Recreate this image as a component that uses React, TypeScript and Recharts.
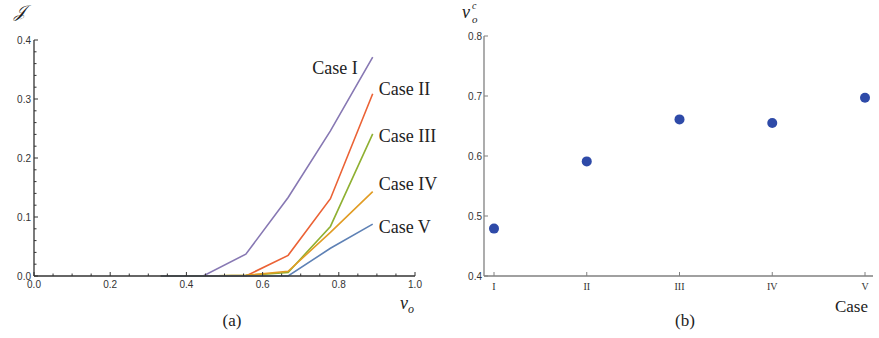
import React from "react";
import { LineChart, Line, XAxis, YAxis, LabelList } from "recharts";

// panel (a): J against v_o, five cases
const voValues = [0.333, 0.444, 0.556, 0.667, 0.778, 0.889];
const caseI = [0, 0, 0.037, 0.133, 0.246, 0.371];
const caseII = [0, 0, 0, 0.035, 0.131, 0.309];
const caseIII = [0, 0, 0.001, 0.006, 0.084, 0.241];
const caseIV = [0, 0, 0.001, 0.008, 0.074, 0.143];
const caseV = [0, 0, 0, 0, 0.047, 0.088];

const xTicksA = [
  0, 0.05, 0.1, 0.15, 0.2, 0.25, 0.3, 0.35, 0.4, 0.45, 0.5, 0.55, 0.6, 0.65,
  0.7, 0.75, 0.8, 0.85, 0.9, 0.95, 1.0,
];
const yTicksA = [
  0, 0.02, 0.04, 0.06, 0.08, 0.1, 0.12, 0.14, 0.16, 0.18, 0.2, 0.22, 0.24,
  0.26, 0.28, 0.3, 0.32, 0.34, 0.36, 0.38, 0.4,
];

// panel (b): critical v_o per case
const caseNames = ["I", "II", "III", "IV", "V"];
const vcValues = [0.479, 0.591, 0.661, 0.655, 0.697];
const yTicksB = [0.4, 0.5, 0.6, 0.7, 0.8];

const dataA = voValues.map((vo, i) => ({
  vo,
  I: caseI[i],
  II: caseII[i],
  III: caseIII[i],
  IV: caseIV[i],
  V: caseV[i],
}));
const dataB = caseNames.map((name, i) => ({ name, vc: vcValues[i] }));

const series = [
  { key: "I", label: "Case I", color: "#8778B3", dx: -15, dy: 17, anchor: "end" },
  { key: "II", label: "Case II", color: "#EB6235", dx: 6, dy: 1, anchor: "start" },
  { key: "III", label: "Case III", color: "#8FB032", dx: 6, dy: 8, anchor: "start" },
  { key: "IV", label: "Case IV", color: "#E19C24", dx: 6, dy: -2, anchor: "start" },
  { key: "V", label: "Case V", color: "#5E81B5", dx: 6, dy: 9, anchor: "start" },
];

const SANS = "'Liberation Sans', Arial, sans-serif";
const SERIF = "'Liberation Serif', 'Times New Roman', serif";
const AXIS_A = "#333";
const AXIS_B = "#808080";
const TICK_TEXT = "#333";

const isMultiple = (v: number, step: number) =>
  Math.abs(Math.round(v / step) * step - v) < 1e-6;

const XTickA = (props: any) => {
  const { x, y, payload } = props;
  const major = isMultiple(payload.value, 0.2);
  return (
    <g>
      <line x1={x} x2={x} y1={y} y2={y - (major ? 4 : 2.5)} stroke={AXIS_A} strokeWidth={1} />
      {major && (
        <text x={x} y={y + 12} textAnchor="middle" fontSize={10} fontFamily={SANS} fill={TICK_TEXT}>
          {payload.value.toFixed(1)}
        </text>
      )}
    </g>
  );
};

const YTickA = (props: any) => {
  const { x, y, payload } = props;
  const major = isMultiple(payload.value, 0.1);
  return (
    <g>
      <line x1={x} x2={x + (major ? 4 : 2.5)} y1={y} y2={y} stroke={AXIS_A} strokeWidth={1} />
      {major && (
        <text x={x - 3} y={y + 3.5} textAnchor="end" fontSize={10} fontFamily={SANS} fill={TICK_TEXT}>
          {payload.value.toFixed(1)}
        </text>
      )}
    </g>
  );
};

const XTickB = (props: any) => {
  const { x, y, payload } = props;
  return (
    <g>
      <line x1={x} x2={x} y1={y} y2={y - 4} stroke={AXIS_B} strokeWidth={1} />
      <text x={x} y={y + 14} textAnchor="middle" fontSize={10} fontFamily={SERIF} fill={TICK_TEXT}>
        {payload.value}
      </text>
    </g>
  );
};

const YTickB = (props: any) => {
  const { x, y, payload } = props;
  return (
    <g>
      <line x1={x} x2={x + 4} y1={y} y2={y} stroke={AXIS_B} strokeWidth={1} />
      <text x={x - 2} y={y + 3.5} textAnchor="end" fontSize={10} fontFamily={SANS} fill={TICK_TEXT}>
        {payload.value.toFixed(1)}
      </text>
    </g>
  );
};

const endLabel = (s: (typeof series)[number]) => (props: any) => {
  const { x, y, index } = props;
  if (index !== voValues.length - 1) return null;
  return (
    <text
      x={x + s.dx}
      y={y + s.dy}
      textAnchor={s.anchor}
      fontSize={18}
      fontFamily={SERIF}
      fill="#222"
    >
      {s.label}
    </text>
  );
};

const App: React.FC = () => (
  <div style={{ position: "absolute", left: 0, top: 0, width: 879, height: 338, background: "#fff" }}>
    <div style={{ position: "absolute", left: 0, top: 0 }}>
      <LineChart width={440} height={338} data={dataA} margin={{ top: 40, right: 25, bottom: 32, left: 0 }}>
        <XAxis
          dataKey="vo"
          type="number"
          domain={[0, 1]}
          ticks={xTicksA}
          interval={0}
          height={30}
          tickSize={0}
          tickMargin={0}
          tickLine={false}
          tick={<XTickA />}
          axisLine={{ stroke: AXIS_A, strokeWidth: 1.3 }}
        />
        <YAxis
          type="number"
          domain={[0, 0.4]}
          ticks={yTicksA}
          interval={0}
          width={34}
          tickSize={0}
          tickMargin={0}
          tickLine={false}
          tick={<YTickA />}
          axisLine={{ stroke: AXIS_A, strokeWidth: 1.3 }}
        />
        {series.map((s) => (
          <Line
            key={s.key}
            type="linear"
            dataKey={s.key}
            stroke={s.color}
            strokeWidth={1.6}
            dot={false}
            isAnimationActive={false}
          >
            <LabelList dataKey={s.key} content={endLabel(s)} />
          </Line>
        ))}
      </LineChart>
    </div>
    <div style={{ position: "absolute", left: 440, top: 0 }}>
      <LineChart width={439} height={338} data={dataB} margin={{ top: 36, right: 6, bottom: 32, left: 0 }}>
        <XAxis
          dataKey="name"
          type="category"
          padding={{ left: 10, right: 8 }}
          interval={0}
          height={30}
          tickSize={0}
          tickMargin={0}
          tickLine={false}
          tick={<XTickB />}
          axisLine={{ stroke: AXIS_B, strokeWidth: 1.3 }}
        />
        <YAxis
          type="number"
          domain={[0.4, 0.8]}
          ticks={yTicksB}
          interval={0}
          width={44}
          tickSize={0}
          tickMargin={0}
          tickLine={false}
          tick={<YTickB />}
          axisLine={{ stroke: AXIS_B, strokeWidth: 1.3 }}
        />
        <Line
          type="linear"
          dataKey="vc"
          stroke="none"
          dot={{ r: 5, fill: "#2E4AA8", stroke: "none" }}
          activeDot={false}
          isAnimationActive={false}
        />
      </LineChart>
    </div>
    <svg width={879} height={338} style={{ position: "absolute", left: 0, top: 0, pointerEvents: "none" }}>
      <text x={14} y={17} fontSize={17} fontFamily={SERIF} fontStyle="italic" fill="#222">
        𝒥
      </text>
      <text x={400} y={309} fontSize={18} fontFamily={SERIF} fontStyle="italic" fill="#222">
        v<tspan fontSize={12} dy={4}>o</tspan>
      </text>
      <text x={232} y={326} fontSize={17} fontFamily={SERIF} textAnchor="middle" fill="#222">
        (a)
      </text>
      <text x={462} y={18} fontSize={18} fontFamily={SERIF} fontStyle="italic" fill="#222">
        v
      </text>
      <text x={472} y={9} fontSize={10} fontFamily={SERIF} fontStyle="italic" fill="#222">
        c
      </text>
      <text x={472} y={23} fontSize={11} fontFamily={SERIF} fontStyle="italic" fill="#222">
        o
      </text>
      <text x={868} y={312} fontSize={17} fontFamily={SERIF} textAnchor="end" fill="#222">
        Case
      </text>
      <text x={685} y={326} fontSize={17} fontFamily={SERIF} textAnchor="middle" fill="#222">
        (b)
      </text>
    </svg>
  </div>
);

export default App;
